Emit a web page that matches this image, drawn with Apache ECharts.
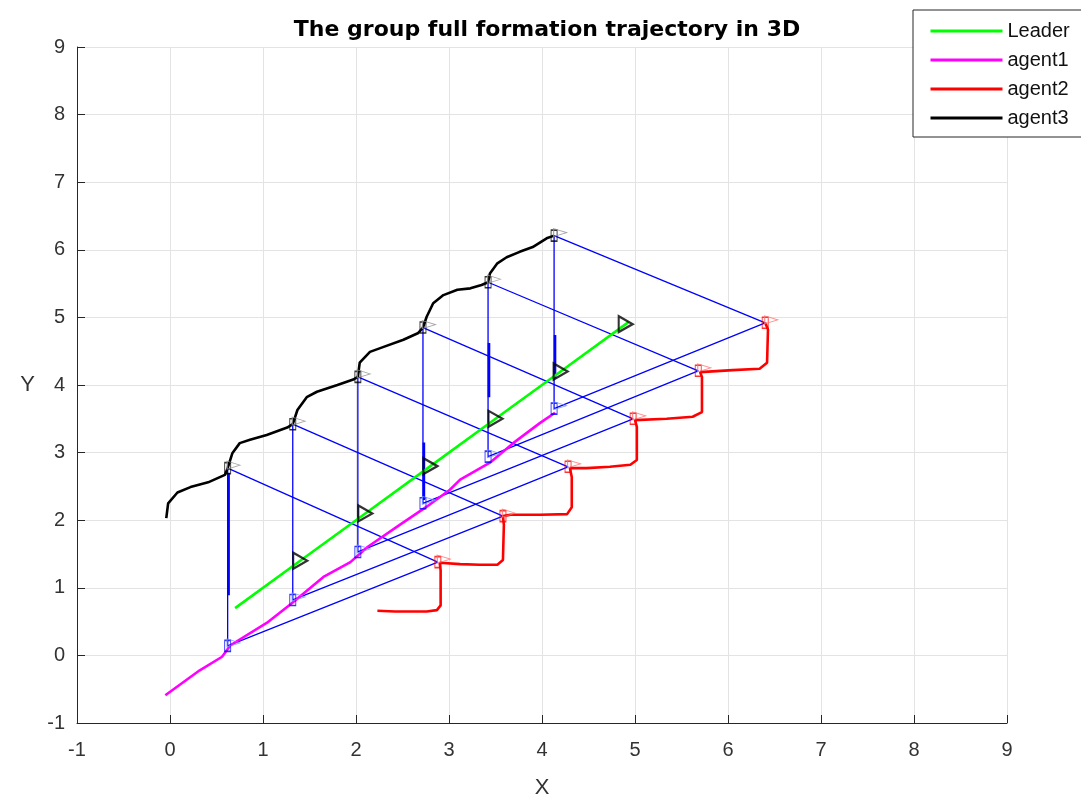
<!DOCTYPE html>
<html>
<head>
<meta charset="utf-8">
<script src="https://cdn.jsdelivr.net/npm/echarts@6/dist/echarts.min.js"></script>
<style>html,body{margin:0;padding:0;background:#fff}#c{width:1081px;height:801px}</style>
</head>
<body>
<div id="c"></div>
<script>
// ---- data ----
const xTicks = [-1, 0, 1, 2, 3, 4, 5, 6, 7, 8, 9];
const yTicks = [-1, 0, 1, 2, 3, 4, 5, 6, 7, 8, 9];

const leaderPath = [[0.70, 0.70], [1.40, 1.40], [2.10, 2.10], [2.80, 2.80], [3.50, 3.50], [4.20, 4.20], [4.93, 4.93]];
const leaderMarks = [[1.40, 1.40], [2.10, 2.10], [2.80, 2.80], [3.50, 3.50], [4.20, 4.20], [4.90, 4.90]];

const agent1Path = [[-0.05, -0.59], [0.32, -0.22], [0.56, -0.02], [0.65, 0.15], [1.04, 0.48], [1.29, 0.75],
  [1.65, 1.16], [1.94, 1.38], [2.12, 1.60], [2.47, 1.93], [2.76, 2.20], [3.01, 2.45], [3.12, 2.60],
  [3.44, 2.85], [3.69, 3.14], [3.98, 3.44], [4.14, 3.59]];

const agent2Path = [[2.23, 0.66], [2.42, 0.65], [2.76, 0.65], [2.87, 0.67], [2.91, 0.74], [2.91, 1.26], [2.90, 1.37], [2.88, 1.38],
  [3.12, 1.35], [3.33, 1.34], [3.52, 1.34], [3.58, 1.41], [3.59, 1.93], [3.58, 2.06],
  [3.66, 2.08], [3.98, 2.08], [4.27, 2.09], [4.32, 2.19], [4.32, 2.64], [4.30, 2.77], [4.28, 2.79],
  [4.48, 2.77], [4.73, 2.79], [4.95, 2.82], [5.02, 2.89], [5.02, 3.38], [5.00, 3.48], [4.98, 3.50],
  [5.34, 3.50], [5.62, 3.53], [5.72, 3.60], [5.72, 4.12], [5.70, 4.19], [5.68, 4.21],
  [6.05, 4.22], [6.34, 4.24], [6.42, 4.33], [6.43, 4.82], [6.40, 4.92]];

const agent3Path = [[-0.04, 2.03], [-0.02, 2.25], [0.08, 2.41], [0.22, 2.49], [0.41, 2.56], [0.59, 2.67], [0.62, 2.77],
  [0.67, 2.99], [0.75, 3.14], [0.86, 3.19], [1.04, 3.26], [1.26, 3.37], [1.32, 3.42],
  [1.37, 3.63], [1.47, 3.82], [1.58, 3.90], [1.80, 4.00], [1.97, 4.08], [2.02, 4.12],
  [2.04, 4.33], [2.15, 4.49], [2.29, 4.56], [2.51, 4.67], [2.67, 4.77], [2.72, 4.85],
  [2.76, 5.01], [2.83, 5.21], [2.94, 5.33], [3.09, 5.41], [3.23, 5.43], [3.35, 5.48], [3.42, 5.52],
  [3.44, 5.65], [3.52, 5.80], [3.62, 5.89], [3.76, 5.97], [3.90, 6.04], [4.05, 6.17], [4.13, 6.21]];

// formation snapshots (agent1, agent2, agent3 positions)
const formA1 = [[0.62, 0.14], [1.32, 0.82], [2.02, 1.53], [2.72, 2.25], [3.42, 2.94], [4.13, 3.65]];
const formA2 = [[2.88, 1.38], [3.58, 2.06], [4.28, 2.79], [4.98, 3.50], [5.68, 4.21], [6.40, 4.92]];
const formA3 = [[0.62, 2.77], [1.32, 3.42], [2.02, 4.12], [2.72, 4.85], [3.42, 5.52], [4.13, 6.21]];

// overlapping (thicker) blue segments on some verticals
const thickSegs = [[[0.63, 2.70], [0.63, 0.89]], [[2.73, 3.15], [2.73, 2.30]], [[3.43, 4.62], [3.43, 3.82]], [[4.14, 4.74], [4.14, 4.10]]];

const legendNames = ['Leader', 'agent1', 'agent2', 'agent3'];

// ---- chart ----
const chart = echarts.init(document.getElementById('c'));
const txt = '#333333';
const font = 'Liberation Sans, Arial, Helvetica, sans-serif';

const series = [];
formA1.forEach((p, k) => {
  series.push({
    type: 'line', name: 'form' + k, data: [formA3[k], formA2[k], formA1[k], formA3[k]],
    symbol: 'none', lineStyle: { color: '#0000ff', width: 1.3 }, z: 2, silent: true, animation: false
  });
});
thickSegs.forEach((s, k) => {
  series.push({
    type: 'line', name: 'thick' + k, data: s, symbol: 'none',
    lineStyle: { color: '#0000ff', width: 2.6 }, z: 2, silent: true, animation: false
  });
});
function pathSeries(name, data, col) {
  return { type: 'line', name: name, data: data, symbol: 'none', color: col,
    itemStyle: { color: col }, lineStyle: { color: col, width: 2.6 }, z: 4, animation: false };
}
series.push(pathSeries(legendNames[0], leaderPath, '#00ff00'));
series.push(pathSeries(legendNames[1], agent1Path, '#ff00ff'));
series.push(pathSeries(legendNames[2], agent2Path, '#ff0000'));
series.push(pathSeries(legendNames[3], agent3Path, '#000000'));

function squares(data, col) {
  return { type: 'scatter', data: data, symbol: 'rect', symbolSize: [6, 11],
    itemStyle: { color: 'rgba(0,0,0,0)', borderColor: col, borderWidth: 1.2 }, z: 5, silent: true, animation: false };
}
function tris(data, col) {
  return { type: 'scatter', data: data, symbol: 'triangle', symbolSize: [8, 13], symbolRotate: -90, symbolOffset: [6, -3],
    itemStyle: { color: 'rgba(0,0,0,0)', borderColor: col, borderWidth: 1 }, z: 5, silent: true, animation: false };
}
series.push(squares(formA1, '#0000ff'), tris(formA1, '#6f8cff'));
series.push(squares(formA2, '#ff0000'), tris(formA2, '#ff7070'));
series.push(squares(formA3, '#000000'), tris(formA3, '#909090'));
series.push({ type: 'scatter', data: leaderMarks, symbol: 'triangle', symbolSize: [16, 14], symbolRotate: -90,
  itemStyle: { color: 'rgba(0,0,0,0)', borderColor: '#000', borderWidth: 2.2 }, z: 6, silent: true, animation: false });

chart.setOption({
  backgroundColor: '#fff',
  animation: false,
  title: {
    text: 'The group full formation trajectory in 3D', left: 542, textAlign: 'center', top: 14,
    textStyle: { fontFamily: 'DejaVu Sans, sans-serif', fontSize: 22, fontWeight: 'bold', color: '#000' }
  },
  legend: {
    data: legendNames, orient: 'vertical', left: 913, top: 10,
    padding: [11, 30, 9, 16], itemWidth: 72, itemHeight: 16, itemGap: 9,
    backgroundColor: '#fff', borderColor: '#262626', borderWidth: 1,
    itemStyle: { opacity: 0 }, lineStyle: { width: 3 },
    textStyle: { fontFamily: font, fontSize: 20, lineHeight: 16, color: '#111' }
  },
  grid: { left: 77, right: 74, top: 47, bottom: 78, containLabel: false, outerBoundsMode: 'none' },
  xAxis: {
    type: 'value', min: xTicks[0], max: xTicks[xTicks.length - 1], interval: 1,
    name: 'X', nameLocation: 'middle', nameGap: 54,
    nameTextStyle: { fontFamily: font, fontSize: 22, color: txt },
    axisLine: { show: true, onZero: false, lineStyle: { color: '#262626', width: 1 } },
    axisTick: { show: true, inside: true, length: 8, lineStyle: { color: '#262626' } },
    axisLabel: { fontFamily: font, fontSize: 20, color: txt, margin: 17 },
    splitLine: { show: true, lineStyle: { color: '#e3e3e3', width: 1 } }
  },
  yAxis: {
    type: 'value', min: yTicks[0], max: yTicks[yTicks.length - 1], interval: 1,
    name: 'Y', nameLocation: 'middle', nameGap: 42, nameRotate: 0,
    nameTextStyle: { fontFamily: font, fontSize: 22, color: txt },
    axisLine: { show: true, onZero: false, lineStyle: { color: '#262626', width: 1 } },
    axisTick: { show: true, inside: true, length: 8, lineStyle: { color: '#262626' } },
    axisLabel: { fontFamily: font, fontSize: 20, color: txt, margin: 12 },
    splitLine: { show: true, lineStyle: { color: '#e3e3e3', width: 1 } }
  },
  series: series
});
</script>
</body>
</html>
